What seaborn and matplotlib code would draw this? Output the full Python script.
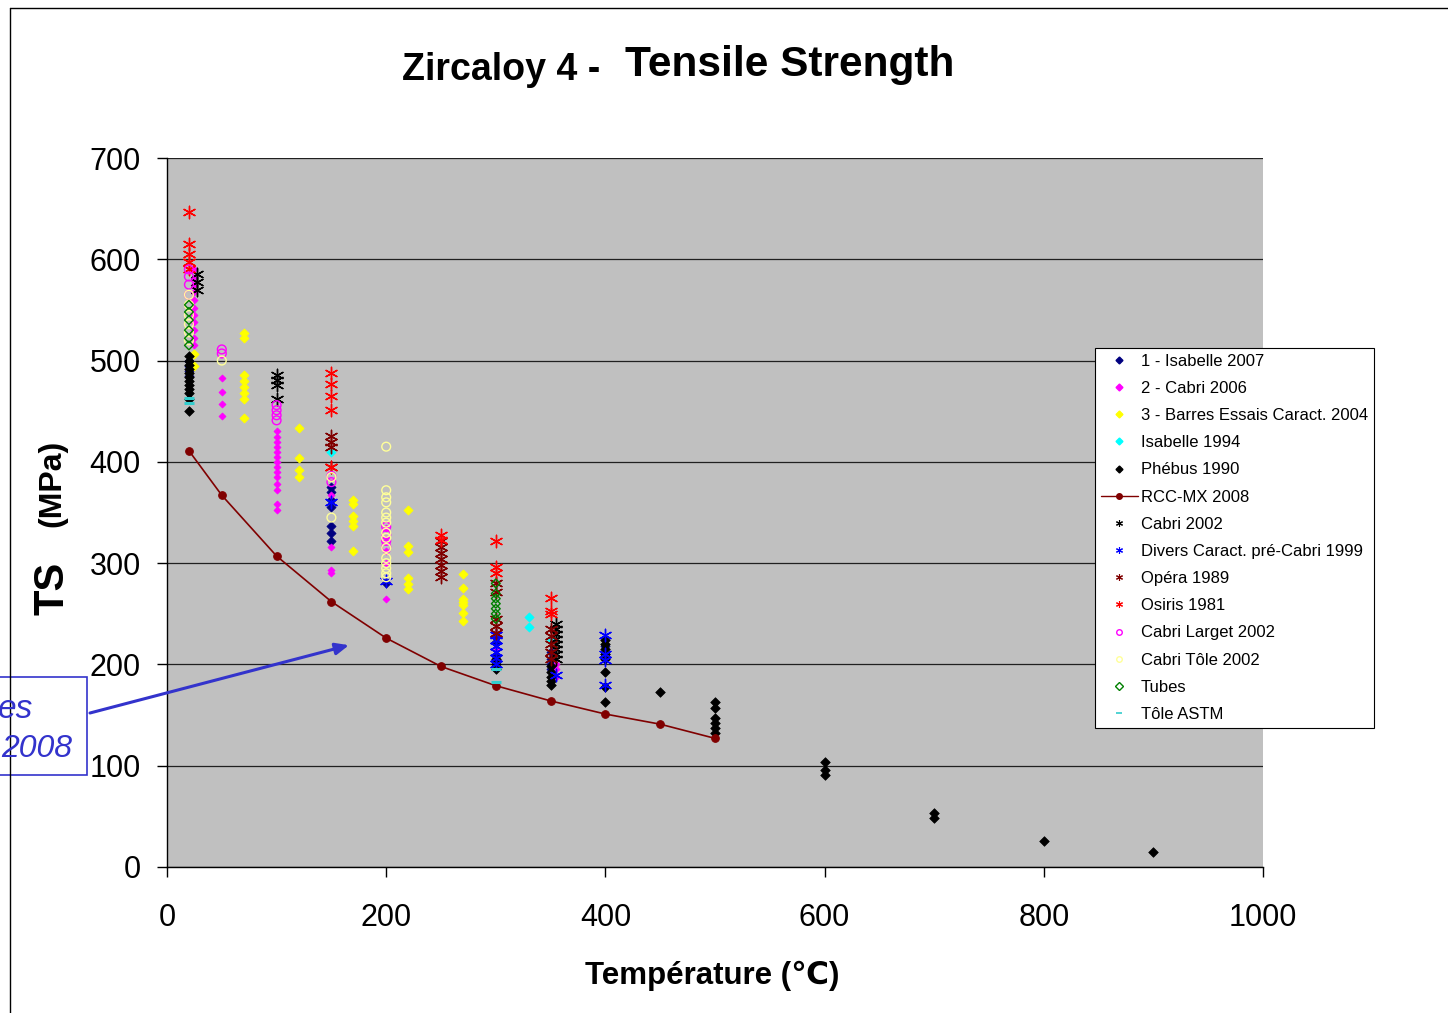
"""Zircaloy 4 tensile strength vs temperature, redrawn with seaborn."""

import matplotlib
matplotlib.use("Agg")
import matplotlib.pyplot as plt
from matplotlib.lines import Line2D
from matplotlib.patches import Rectangle
import pandas as pd
import seaborn as sns

# --- data (x = temperature, y = TS in MPa) ---
isabelle07_x = [20, 20, 20, 20, 150, 150, 150, 150, 150, 150, 150, 200,
                300, 300, 300, 300, 350, 350, 350, 350, 400, 400]
isabelle07_y = [485, 490, 495, 500, 322, 330, 337, 355, 362, 370, 375, 280,
                208, 215, 222, 228, 195, 200, 205, 212, 210, 218]

cabri06_x = [25] * 11 + [50] * 4 + [100] * 14 + [150] * 4 + [200] * 5 + [300] + [355] * 3
cabri06_y = [515, 522, 530, 538, 545, 552, 560, 568, 575, 582, 590,
             445, 457, 469, 483,
             352, 358, 372, 378, 385, 390, 395, 400, 405, 410, 415, 420, 425, 430,
             290, 293, 316, 367,
             265, 300, 312, 322, 335,
             215,
             188, 195, 200]

barres_x = [25] * 2 + [70] * 8 + [120] * 4 + [170] * 6 + [220] * 6 + [270] * 7
barres_y = [495, 506,
            443, 462, 468, 474, 480, 486, 522, 527,
            385, 392, 404, 433,
            312, 337, 342, 347, 358, 362,
            274, 279, 285, 311, 317, 352,
            243, 251, 259, 262, 265, 275, 289]

isabelle94_x = [150, 330, 330, 350]
isabelle94_y = [410, 237, 247, 225]

phebus_x = [20] * 12 + [300] * 3 + [350] * 5 + [400] * 8 + [450] + [500] * 6 + [600] * 3 + [700] * 2 + [800, 900]
phebus_y = [450, 462, 468, 472, 476, 480, 484, 488, 492, 496, 500, 505,
            195, 200, 205,
            180, 184, 188, 193, 198,
            163, 178, 193, 205, 210, 215, 220, 224,
            173,
            132, 137, 142, 147, 157, 163,
            91, 96, 104,
            48, 53,
            26, 15]

rcc_x = [20, 50, 100, 150, 200, 250, 300, 350, 400, 450, 500]
rcc_y = [411, 367, 307, 262, 226, 198, 179, 164, 151, 141, 127]

cabri02_x = [27] * 3 + [100] * 4 + [355] * 8
cabri02_y = [570, 578, 585, 462, 476, 481, 486,
             205, 210, 215, 220, 225, 230, 235, 240]

divers_x = [150, 200] + [300] * 6 + [355] + [400] * 4
divers_y = [360, 282, 200, 206, 212, 218, 224, 229, 190, 180, 204, 210, 229]

opera_x = [150] * 4 + [250] * 7 + [300] * 5 + [350] * 5
opera_y = [395, 415, 420, 426,
           286, 292, 298, 304, 310, 316, 322,
           231, 238, 245, 272, 280,
           205, 212, 220, 228, 235]

osiris_x = [20] * 5 + [150] * 5 + [250] * 2 + [300] * 3 + [350] * 3
osiris_y = [590, 597, 605, 615, 647,
            395, 451, 465, 477, 488,
            323, 328,
            290, 296, 322,
            250, 253, 266]

larget_x = [20] * 4 + [50] * 2 + [100] * 4 + [150] * 2 + [200] * 4
larget_y = [565, 575, 583, 590, 507, 511, 441, 446, 451, 456, 380, 386,
            316, 322, 328, 336]

tole02_x = [20] * 6 + [50] + [150] * 2 + [200] * 15
tole02_y = [520, 528, 536, 545, 555, 565, 500, 345, 385,
            286, 290, 295, 300, 305, 315, 325, 330, 340, 345, 350, 360, 365, 372, 415]

tubes_x = [20] * 6 + [300] * 7
tubes_y = [515, 522, 530, 540, 548, 555, 245, 250, 255, 260, 265, 270, 280]

astm_x = [20, 20, 300, 300]
astm_y = [458, 463, 183, 195]

x_ticks = [0, 200, 400, 600, 800, 1000]
y_ticks = [0, 100, 200, 300, 400, 500, 600, 700]

# label, x, y, marker, colour, filled, size
series = [
    ("1 - Isabelle 2007", isabelle07_x, isabelle07_y, "D", "#000080", True, 22),
    ("2 - Cabri 2006", cabri06_x, cabri06_y, "D", "#FF00FF", True, 13),
    ("3 - Barres Essais Caract. 2004", barres_x, barres_y, "D", "#FFFF00", True, 22),
    ("Isabelle 1994", isabelle94_x, isabelle94_y, "D", "#00FFFF", True, 22),
    ("Phébus 1990", phebus_x, phebus_y, "D", "#000000", True, 24),
    ("RCC-MX 2008", rcc_x, rcc_y, "o", "#800000", True, 0),
    ("Cabri 2002", cabri02_x, cabri02_y, (6, 2, 0), "#000000", False, 80),
    ("Divers Caract. pré-Cabri 1999", divers_x, divers_y, (6, 2, 0), "#0000FF", False, 80),
    ("Opéra 1989", opera_x, opera_y, (6, 2, 0), "#800000", False, 80),
    ("Osiris 1981", osiris_x, osiris_y, (6, 2, 0), "#FF0000", False, 80),
    ("Cabri Larget 2002", larget_x, larget_y, "o", "#FF00FF", False, 40),
    ("Cabri Tôle 2002", tole02_x, tole02_y, "o", "#FFFF99", False, 40),
    ("Tubes", tubes_x, tubes_y, "D", "#008000", False, 20),
    ("Tôle ASTM", astm_x, astm_y, "_", "#33CCCC", False, 45),
]

W, H = 1448, 1013


def fx(px):
    return px / W


def fy(py):
    return 1 - py / H


sns.set_style("white")
plt.rcParams["font.family"] = ["Liberation Sans", "DejaVu Sans"]
plt.rcParams["text.color"] = "black"
plt.rcParams["xtick.color"] = "black"
plt.rcParams["ytick.color"] = "black"

fig = plt.figure(figsize=(W / 100, H / 100), dpi=100)
ax = fig.add_axes([fx(167), fy(867), fx(1263) - fx(167), fy(158) - fy(867)])
ax.set_facecolor("#C0C0C0")

handles = []
for label, xs, ys, marker, color, filled, size in series:
    df = pd.DataFrame({"temp": xs, "ts": ys})
    if label.startswith("RCC"):
        sns.lineplot(data=df, x="temp", y="ts", ax=ax, color=color, lw=1.2,
                     marker="o", markersize=5.5, markeredgecolor=color, zorder=3)
        handles.append(Line2D([], [], color=color, lw=1.0, marker="o",
                              markersize=4, label=label))
        continue
    if filled:
        sns.scatterplot(data=df, x="temp", y="ts", ax=ax, marker=marker, s=size,
                        color=color, edgecolor=color, linewidth=0.5, zorder=3)
        handles.append(Line2D([], [], ls="none", marker=marker, color=color,
                              markersize=3.5, label=label))
    elif marker == "o" or marker == "D":
        ax.scatter(xs, ys, marker=marker, s=size, facecolors="none",
                   edgecolors=color, linewidths=1.0, zorder=3)
        handles.append(Line2D([], [], ls="none", marker=marker, markerfacecolor="none",
                              markeredgecolor=color, markersize=4, label=label))
    else:
        lw = 2.2 if marker == "_" else 1.0
        sns.scatterplot(data=df, x="temp", y="ts", ax=ax, marker=marker, s=size,
                        color=color, linewidth=lw, zorder=3)
        handles.append(Line2D([], [], ls="none", marker=marker, color=color,
                              markersize=5, markeredgewidth=1.2 if marker == "_" else 0.8,
                              label=label))

ax.set_xlim(0, 1000)
ax.set_ylim(0, 700)
ax.set_xticks(x_ticks)
ax.set_yticks(y_ticks)
ax.yaxis.grid(True, color="#202020", lw=0.9)
ax.set_axisbelow(True)
ax.set_xlabel("")
ax.set_ylabel("")
for side in ["top", "right"]:
    ax.spines[side].set_visible(False)
for side in ["left", "bottom"]:
    ax.spines[side].set_color("black")
    ax.spines[side].set_linewidth(1.0)
ax.tick_params(axis="both", direction="out", length=7, width=1.0, color="black",
               labelsize=22, labelcolor="black", left=True, bottom=True)
ax.tick_params(axis="y", pad=12)
ax.tick_params(axis="x", pad=19)

# titles and axis labels
fig.text(fx(402), fy(80), "Zircaloy 4 -", fontsize=27, fontweight="bold",
         ha="left", va="baseline")
fig.text(fx(625), fy(76), "Tensile Strength", fontsize=30.5, fontweight="bold",
         ha="left", va="baseline")
fig.text(fx(712), fy(976), "Température (℃)", fontsize=22.5, fontweight="bold",
         ha="center", va="center")
fig.text(fx(52), fy(588), "TS", fontsize=30, fontweight="bold", rotation=90,
         ha="center", va="center")
fig.text(fx(52), fy(483), "(MPa)", fontsize=23, fontweight="bold", rotation=90,
         ha="center", va="center")

# legend
leg = fig.legend(handles=handles, loc="upper left",
                 bbox_to_anchor=(fx(1095), fy(348)), bbox_transform=fig.transFigure,
                 fontsize=12, frameon=True, fancybox=False, framealpha=1,
                 edgecolor="black", borderpad=0.35, labelspacing=0.73,
                 handlelength=2.2, handletextpad=0.2, borderaxespad=0)
leg.get_frame().set_linewidth(0.8)

# outer chart border (cut at right and bottom)
fig.add_artist(Line2D([fx(10), fx(10)], [fy(8), 0], color="black", lw=1.0,
                      transform=fig.transFigure))
fig.add_artist(Line2D([fx(10), 1], [fy(8), fy(8)], color="black", lw=1.0,
                      transform=fig.transFigure))

# callout box with arrow pointing to the RCC-MX curve
blue = "#3333CC"
fig.add_artist(Rectangle((fx(-5), fy(775)), fx(92), fy(677) - fy(775),
                         transform=fig.transFigure, fill=False, edgecolor=blue, lw=1.2))
fig.text(fx(33), fy(718), "es", fontsize=24, style="italic", color=blue,
         ha="right", va="baseline")
fig.text(fx(72), fy(757), "2008", fontsize=23, style="italic", color=blue,
         ha="right", va="baseline")
ax.annotate("", xy=(166, 219), xycoords="data",
            xytext=(fx(90), fy(713)), textcoords="figure fraction",
            arrowprops=dict(arrowstyle="-|>,head_length=0.8,head_width=0.35",
                            color=blue, lw=2.2, shrinkA=0, shrinkB=0),
            annotation_clip=False)

fig.savefig("out.png", dpi=100)
